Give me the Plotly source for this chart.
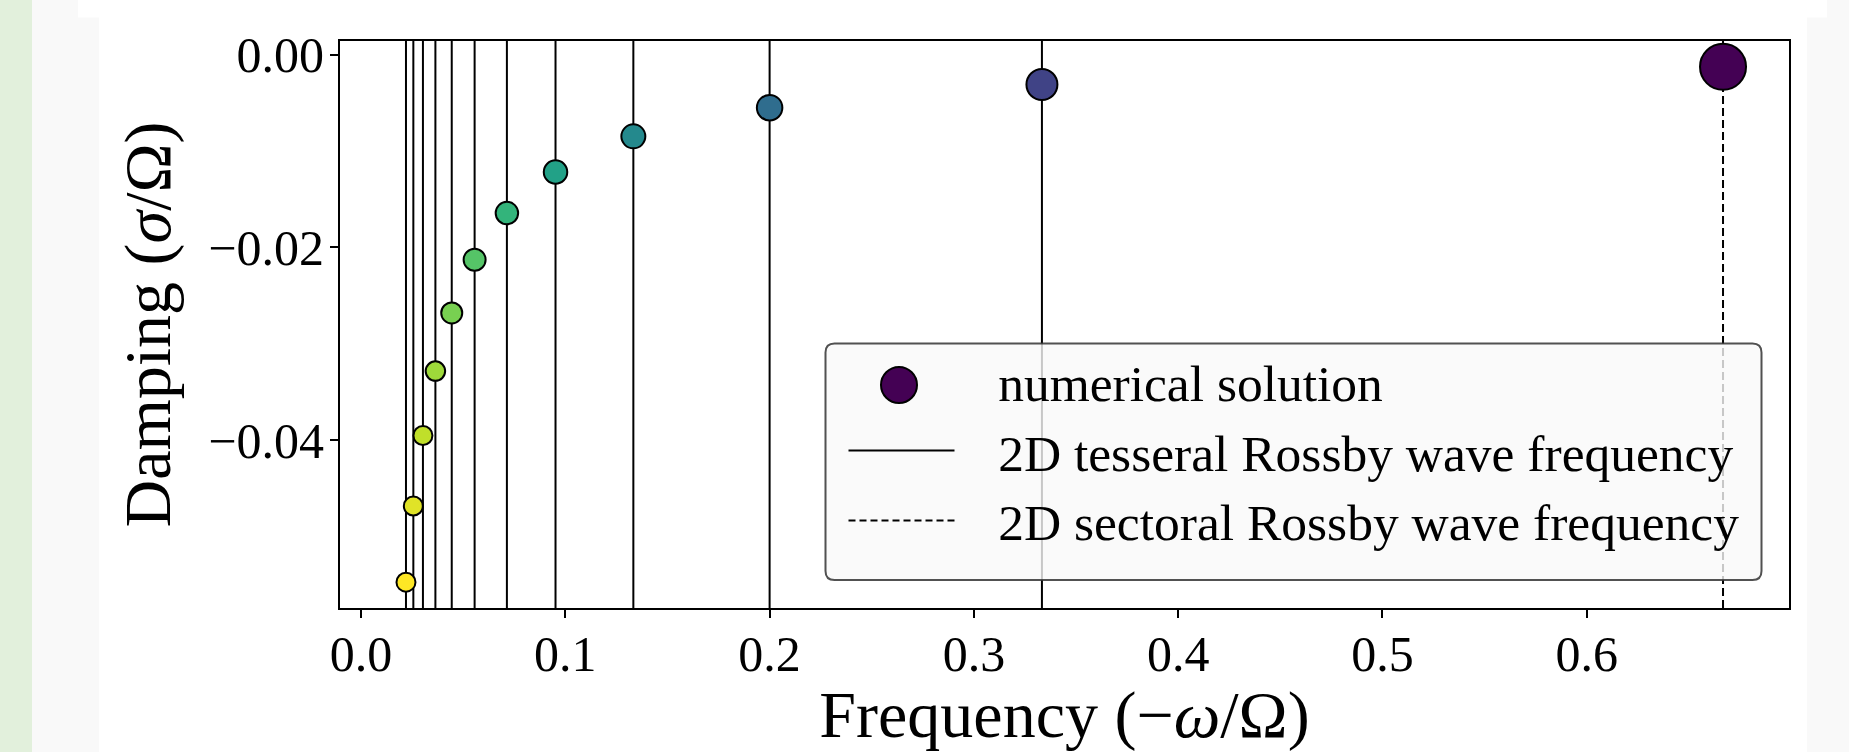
import numpy as np
import plotly.graph_objects as go

# ---------------- data ----------------
freq = [0.6667, 0.3333, 0.2000, 0.1333, 0.0952, 0.0714,
        0.0556, 0.0444, 0.0364, 0.0303, 0.0256, 0.0220]
damping = [-0.00125, -0.00309, -0.00549, -0.00847, -0.01217, -0.01643,
           -0.02128, -0.02680, -0.03284, -0.03952, -0.04684, -0.05475]
tesseral_freq = [0.3333, 0.2000, 0.1333, 0.0952, 0.0714, 0.0556,
                 0.0444, 0.0364, 0.0303, 0.0256, 0.0220]
sectoral_freq = [0.6667]
x_tick_vals = [0.0, 0.1, 0.2, 0.3, 0.4, 0.5, 0.6]
x_tick_text = ["0.0", "0.1", "0.2", "0.3", "0.4", "0.5", "0.6"]
y_tick_vals = [0.0, -0.02, -0.04]
y_tick_text = ["0.00", "\u22120.02", "\u22120.04"]
names = ["numerical solution",
         "2D tesseral Rossby wave frequency",
         "2D sectoral Rossby wave frequency"]

# ---------------- style ----------------
W, H = 1849, 752
L, R, T, B = 340, 60, 41, 144
PW, PH = W - L - R, H - T - B
FONT = "Liberation Serif"
marker_outer_px = [48, 33, 27.5, 26, 25.5, 24.5, 24, 23, 21.5, 21, 21, 21]
edge_w = 2
marker_sizes = [d - edge_w for d in marker_outer_px]
LEG_PAD = "   "  # gap between legend symbol and text


def px2x(px):
    return (px - L) / PW


def py2y(py):
    return (H - B - py) / PH


fig = go.Figure()

# page background pieces (drawn first so reference lines sit above them)
bg_shapes = [
    dict(type="rect", xref="paper", yref="paper", layer="below",
         x0=px2x(0), x1=px2x(32), y0=py2y(H), y1=py2y(0),
         fillcolor="#e2f0dc", line=dict(width=0)),
    dict(type="rect", xref="paper", yref="paper", layer="below",
         x0=px2x(78), x1=px2x(1827), y0=py2y(17.5), y1=py2y(0),
         fillcolor="white", line=dict(width=0)),
    dict(type="rect", xref="paper", yref="paper", layer="below",
         x0=px2x(99), x1=px2x(1807), y0=py2y(H), y1=py2y(17),
         fillcolor="white", line=dict(width=0)),
]
fig.update_layout(shapes=bg_shapes)

# numerical solution markers (colour from log frequency via Viridis scale)
fig.add_trace(go.Scatter(
    x=freq, y=damping, mode="markers", name=names[0], showlegend=False,
    cliponaxis=False,
    marker=dict(size=marker_sizes, color=np.log(freq), colorscale="Viridis",
                reversescale=True, opacity=1,
                line=dict(color="black", width=edge_w)),
))

# legend entries
fig.add_trace(go.Scatter(
    x=[None], y=[None], mode="markers", name=LEG_PAD + names[0],
    legendgroup="a",
    marker=dict(size=12, color="rgba(0,0,0,0)", line=dict(width=0)),
))
fig.add_trace(go.Scatter(
    x=[None], y=[None], mode="lines", name=LEG_PAD + names[1],
    legendgroup="b", line=dict(color="black", width=2),
))
fig.add_trace(go.Scatter(
    x=[None], y=[None], mode="lines", name=LEG_PAD + names[2],
    legendgroup="c", line=dict(color="black", width=2, dash="7px,4px"),
))

# vertical reference lines
for f in tesseral_freq:
    fig.add_vline(x=f, line=dict(color="black", width=2), layer="below")
for f in sectoral_freq:
    fig.add_vline(x=f, line=dict(color="black", width=2, dash="8px,4px"),
                  layer="below")

# legend frame (rounded)
bx0, bx1, by0, by1, rr = 825.5, 1761.5, 343.5, 580.0, 9


def rpath(x0, x1, y0, y1, r):
    p = [f"M {px2x(x0 + r)} {py2y(y0)}",
         f"L {px2x(x1 - r)} {py2y(y0)}",
         f"Q {px2x(x1)} {py2y(y0)} {px2x(x1)} {py2y(y0 + r)}",
         f"L {px2x(x1)} {py2y(y1 - r)}",
         f"Q {px2x(x1)} {py2y(y1)} {px2x(x1 - r)} {py2y(y1)}",
         f"L {px2x(x0 + r)} {py2y(y1)}",
         f"Q {px2x(x0)} {py2y(y1)} {px2x(x0)} {py2y(y1 - r)}",
         f"L {px2x(x0)} {py2y(y0 + r)}",
         f"Q {px2x(x0)} {py2y(y0)} {px2x(x0 + r)} {py2y(y0)}",
         "Z"]
    return " ".join(p)


fig.add_shape(type="path", xref="paper", yref="paper", layer="above",
              path=rpath(bx0, bx1, by0, by1, rr),
              fillcolor="rgba(249,249,249,0.8)",
              line=dict(color="rgba(50,50,50,0.85)", width=2))
# large legend marker
cx, cy, rad = 899, 385, 18
fig.add_shape(type="circle", xref="paper", yref="paper", layer="above",
              x0=px2x(cx - rad), x1=px2x(cx + rad),
              y0=py2y(cy + rad), y1=py2y(cy - rad),
              fillcolor="#440154", line=dict(color="black", width=2))

axis_common = dict(
    showline=True, linecolor="black", linewidth=2, mirror=True,
    ticks="outside", ticklen=8, tickwidth=2, tickcolor="black",
    showgrid=False, zeroline=False,
    tickfont=dict(family=FONT, size=50, color="black"),
    title_font=dict(family=FONT, size=66, color="black"),
)

fig.update_xaxes(**axis_common, range=[-0.0103, 0.6990],
                 tickmode="array", tickvals=x_tick_vals, ticktext=x_tick_text,
                 ticklabelstandoff=-7,
                 title_text="Frequency (\u2212<i>\u03c9</i>/\u03a9)",
                 title_standoff=14)
fig.update_yaxes(**axis_common, range=[-0.05743, 0.00143],
                 tickmode="array", tickvals=y_tick_vals, ticktext=y_tick_text,
                 ticklabelstandoff=-4,
                 title_text="Damping (<i>\u03c3</i>/\u03a9)",
                 title_standoff=16)

fig.update_layout(
    width=W, height=H,
    margin=dict(l=L, r=R, t=T, b=B, autoexpand=False),
    paper_bgcolor="#f9f9f9", plot_bgcolor="white",
    legend=dict(
        x=px2x(843.5), y=py2y(by0 - 3), xanchor="left", yanchor="top",
        bgcolor="rgba(0,0,0,0)", borderwidth=0,
        font=dict(family=FONT, size=51.5, color="black"),
        itemwidth=106, tracegroupgap=14, traceorder="normal",
    ),
)

fig.write_html("out.html")
